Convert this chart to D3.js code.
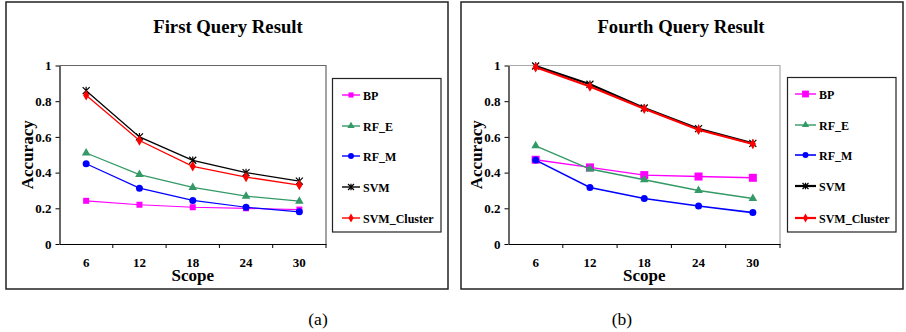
<!DOCTYPE html>
<html>
<head>
<meta charset="utf-8">
<script src="https://cdn.jsdelivr.net/npm/d3@7"></script>
<style>
  html, body { margin: 0; padding: 0; background: #fff; }
  svg text { font-family: "Liberation Serif", "Times New Roman", serif; }
</style>
</head>
<body>
<svg id="chart" width="906" height="332"></svg>
<script>
// ---------- DATA ----------
const scopes = [6, 12, 18, 24, 30];
const seriesNames = ["BP", "RF_E", "RF_M", "SVM", "SVM_Cluster"];
const seriesColors = ["#FF00FF", "#339966", "#0000FF", "#000000", "#FF0000"];
const yTicks = [0, 0.2, 0.4, 0.6, 0.8, 1];
const yTickLabels = ["0", "0.2", "0.4", "0.6", "0.8", "1"];

const firstBP   = [0.242, 0.220, 0.206, 0.200, 0.193];
const firstRFE  = [0.510, 0.389, 0.317, 0.268, 0.240];
const firstRFM  = [0.450, 0.313, 0.244, 0.206, 0.180];
const firstSVM  = [0.859, 0.600, 0.469, 0.400, 0.352];
const firstSVMC = [0.833, 0.580, 0.435, 0.375, 0.330];

const fourthBP   = [0.472, 0.429, 0.386, 0.378, 0.371];
const fourthRFE  = [0.550, 0.420, 0.360, 0.300, 0.255];
const fourthRFM  = [0.470, 0.317, 0.255, 0.213, 0.176];
const fourthSVM  = [0.997, 0.895, 0.762, 0.646, 0.564];
const fourthSVMC = [0.990, 0.882, 0.758, 0.640, 0.560];

const panelTitles = ["First Query Result", "Fourth Query Result"];
const captions = ["(a)", "(b)"];
const xTitle = "Scope";
const yTitle = "Accuracy";

// ---------- LAYOUT ----------
const svg = d3.select("#chart");

const panels = [
  {
    title: panelTitles[0], caption: captions[0],
    series: [firstBP, firstRFE, firstRFM, firstSVM, firstSVMC],
    box: [6, 2, 448, 289],
    plot: [59.5, 65.5, 326, 244],
    frameColor: "#666",
    titleX: 228, captionX: 318,
    legend: [332.5, 78.5, 441, 232],
    legendY: [95, 126, 156, 187, 218],
    legendLine: [342, 360], legendTextX: 363,
    widths: [1.2, 1.2, 1.2, 1.3, 1.3],
    bpSize: 6
  },
  {
    title: panelTitles[1], caption: captions[1],
    series: [fourthBP, fourthRFE, fourthRFM, fourthSVM, fourthSVMC],
    box: [461, 2, 903, 289],
    plot: [508.5, 65.5, 780, 244],
    frameColor: "#aaa",
    titleX: 681, captionX: 622,
    legend: [787.5, 77.5, 896, 232],
    legendY: [94, 125, 155, 186, 218],
    legendLine: [795, 816], legendTextX: 819,
    widths: [1.4, 1.4, 1.6, 2.2, 2.2],
    bpSize: 8
  }
];

function drawMarker(g, name, cx, cy, color, bpSize, scale) {
  const s = scale || 1;
  if (name === "BP") {
    const a = bpSize * s;
    g.append("rect").attr("x", cx - a / 2).attr("y", cy - a / 2)
      .attr("width", a).attr("height", a).attr("fill", color);
  } else if (name === "RF_E") {
    g.append("path").attr("transform", `translate(${cx},${cy})`)
      .attr("d", d3.symbol(d3.symbolTriangle, 32 * s * s)()).attr("fill", color);
  } else if (name === "RF_M") {
    g.append("circle").attr("cx", cx).attr("cy", cy).attr("r", 3.5 * s).attr("fill", color);
  } else if (name === "SVM") {
    const r = 3.5 * s;
    g.append("path")
      .attr("d", `M${cx - r},${cy - r}L${cx + r},${cy + r}M${cx - r},${cy + r}L${cx + r},${cy - r}M${cx},${cy - r * 1.1}L${cx},${cy + r * 1.1}`)
      .attr("stroke", color).attr("stroke-width", 1.2).attr("fill", "none");
  } else {
    g.append("path").attr("transform", `translate(${cx},${cy})`)
      .attr("d", d3.symbol(d3.symbolDiamond, 32 * s * s)()).attr("fill", color);
  }
}

panels.forEach(p => {
  const g = svg.append("g");
  const [bx0, by0, bx1, by1] = p.box;
  g.append("rect").attr("x", bx0).attr("y", by0).attr("width", bx1 - bx0).attr("height", by1 - by0)
    .attr("fill", "#fff").attr("stroke", "#222").attr("stroke-width", 1.5);

  const [px0, py0, px1, py1] = p.plot;
  const x = d3.scaleBand().domain(scopes).range([px0, px1]).padding(0);
  const y = d3.scaleLinear().domain([0, 1]).range([py1, py0]);

  // plot frame (top/right)
  g.append("path").attr("d", `M${px0},${py0}H${px1}V${py1}`)
    .attr("fill", "none").attr("stroke", p.frameColor).attr("stroke-width", 1.2);

  // Y axis
  const yAxis = d3.axisLeft(y).tickValues(yTicks).tickSize(4).tickSizeOuter(0)
    .tickFormat((d, i) => yTickLabels[i]);
  const ya = g.append("g").attr("transform", `translate(${px0},0)`).call(yAxis);
  ya.select(".domain").attr("stroke", "#000").attr("stroke-width", 1.2);
  ya.selectAll(".tick line").attr("stroke", "#000");
  ya.selectAll(".tick text").attr("font-family", "Liberation Serif").attr("font-weight", "bold")
    .attr("font-size", 13).attr("fill", "#000").attr("x", -8);

  // X axis (labels at band centers, ticks at band boundaries)
  const xAxis = d3.axisBottom(x).tickSize(0).tickSizeOuter(0);
  const xa = g.append("g").attr("transform", `translate(0,${py1})`).call(xAxis);
  xa.select(".domain").attr("stroke", "#000").attr("stroke-width", 1.2);
  xa.selectAll(".tick text").attr("font-family", "Liberation Serif").attr("font-weight", "bold")
    .attr("font-size", 13).attr("fill", "#000").attr("dy", 0).attr("y", 22.5);
  scopes.forEach(s => {
    const bx = x(s) + x.bandwidth();
    g.append("line").attr("x1", bx).attr("x2", bx).attr("y1", py1).attr("y2", py1 + 4)
      .attr("stroke", "#000").attr("stroke-width", 1);
  });

  // axis titles
  g.append("text").attr("x", (px0 + px1) / 2).attr("y", py1 + 36.5).attr("text-anchor", "middle")
    .attr("font-weight", "bold").attr("font-size", 17).text(xTitle);
  g.append("text").attr("transform", `translate(${px0 - 27},${(py0 + py1) / 2}) rotate(-90)`)
    .attr("text-anchor", "middle").attr("font-weight", "bold").attr("font-size", 17).text(yTitle);

  // title
  g.append("text").attr("x", p.titleX).attr("y", 33).attr("text-anchor", "middle")
    .attr("font-weight", "bold").attr("font-size", 18.7).text(p.title);

  // caption
  svg.append("text").attr("x", p.captionX).attr("y", 325).attr("text-anchor", "middle")
    .attr("font-size", 17.5).text(p.caption);

  // series
  const line = d3.line().x((d, i) => x(scopes[i]) + x.bandwidth() / 2).y(d => y(d));
  p.series.forEach((vals, si) => {
    const name = seriesNames[si], color = seriesColors[si];
    const sg = g.append("g");
    sg.append("path").datum(vals).attr("d", line).attr("fill", "none")
      .attr("stroke", color).attr("stroke-width", p.widths[si]);
    vals.forEach((v, i) => drawMarker(sg, name, x(scopes[i]) + x.bandwidth() / 2, y(v), color, p.bpSize));
  });

  // legend
  const [lx0, ly0, lx1, ly1] = p.legend;
  g.append("rect").attr("x", lx0).attr("y", ly0).attr("width", lx1 - lx0).attr("height", ly1 - ly0)
    .attr("fill", "#fff").attr("stroke", "#222").attr("stroke-width", 1.2);
  seriesNames.forEach((name, si) => {
    const ly = p.legendY[si], color = seriesColors[si];
    const [l0, l1] = p.legendLine;
    g.append("line").attr("x1", l0).attr("x2", l1).attr("y1", ly).attr("y2", ly)
      .attr("stroke", color).attr("stroke-width", Math.max(1.4, p.widths[si]));
    drawMarker(g, name, (l0 + l1) / 2, ly, color, p.bpSize, 0.85);
    g.append("text").attr("x", p.legendTextX).attr("y", ly + 4.5).attr("font-weight", "bold")
      .attr("font-size", 12).text(name);
  });
});
</script>
</body>
</html>
